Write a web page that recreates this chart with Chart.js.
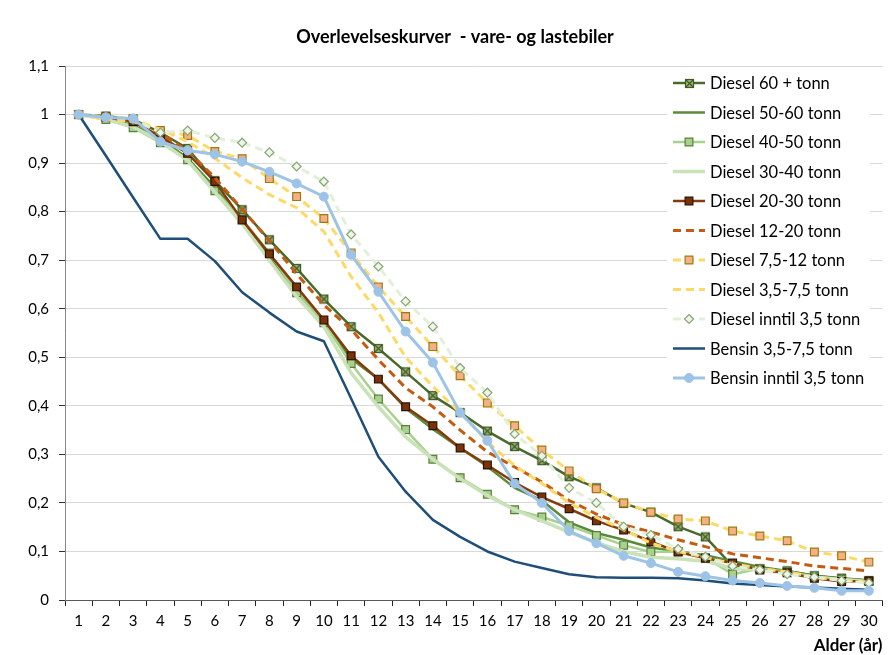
<!DOCTYPE html>
<html><head><meta charset="utf-8">
<script src="https://cdn.jsdelivr.net/npm/chart.js@4.4.0/dist/chart.umd.min.js"></script>
<style>html,body{margin:0;padding:0;background:#fff;}#wrap{width:890px;height:655px;position:relative;}</style>
</head><body><div id="wrap"><canvas id="c" width="890" height="655"></canvas></div>
<script>
const chartTitle = 'Overlevelseskurver  - vare- og lastebiler';
const xAxisTitle = 'Alder (år)';
const ages = ['1','2','3','4','5','6','7','8','9','10','11','12','13','14','15','16','17','18','19','20','21','22','23','24','25','26','27','28','29','30'];
const yTicks = [0,0.1,0.2,0.3,0.4,0.5,0.6,0.7,0.8,0.9,1,1.1];
const seriesNames = ['Diesel 60 + tonn','Diesel 50-60 tonn','Diesel 40-50 tonn','Diesel 30-40 tonn','Diesel 20-30 tonn','Diesel 12-20 tonn','Diesel 7,5-12 tonn','Diesel 3,5-7,5 tonn','Diesel inntil 3,5 tonn','Bensin 3,5-7,5 tonn','Bensin inntil 3,5 tonn'];
const diesel60 = [1.0,0.997,0.99,0.963,0.93,0.864,0.804,0.742,0.683,0.62,0.563,0.518,0.47,0.421,0.386,0.348,0.316,0.287,0.254,0.231,0.199,0.181,0.151,0.13,0.07,0.065,0.06,0.05,0.045,0.04];
const diesel5060 = [1.0,0.993,0.978,0.95,0.91,0.85,0.785,0.705,0.635,0.572,0.497,0.455,0.395,0.352,0.313,0.275,0.231,0.205,0.16,0.138,0.124,0.108,0.1,0.092,0.08,0.068,0.06,0.05,0.044,0.04];
const diesel4050 = [1.0,0.99,0.973,0.942,0.907,0.843,0.785,0.715,0.633,0.571,0.487,0.414,0.351,0.29,0.252,0.218,0.186,0.171,0.153,0.133,0.113,0.099,0.1,0.087,0.053,0.065,0.058,0.048,0.042,0.038];
const diesel3040 = [1.0,0.99,0.975,0.945,0.905,0.84,0.775,0.7,0.625,0.563,0.468,0.398,0.336,0.29,0.25,0.215,0.186,0.163,0.14,0.118,0.1,0.088,0.085,0.08,0.065,0.062,0.055,0.047,0.042,0.038];
const diesel2030 = [1.0,0.995,0.985,0.955,0.92,0.862,0.783,0.713,0.645,0.577,0.503,0.455,0.398,0.359,0.313,0.278,0.242,0.212,0.188,0.163,0.144,0.12,0.099,0.086,0.076,0.062,0.056,0.045,0.038,0.039];
const diesel1220 = [1.0,0.995,0.988,0.962,0.925,0.87,0.805,0.74,0.672,0.608,0.557,0.495,0.437,0.398,0.35,0.305,0.274,0.243,0.205,0.177,0.155,0.14,0.124,0.11,0.095,0.087,0.079,0.07,0.065,0.06];
const diesel7512 = [1.0,0.995,0.992,0.967,0.957,0.924,0.909,0.868,0.831,0.786,0.715,0.645,0.584,0.522,0.462,0.406,0.359,0.309,0.266,0.229,0.2,0.181,0.167,0.163,0.142,0.132,0.122,0.099,0.091,0.078];
const diesel3575 = [1.0,0.99,0.985,0.97,0.944,0.91,0.87,0.835,0.808,0.759,0.666,0.592,0.5,0.44,0.386,0.326,0.277,0.24,0.2,0.17,0.145,0.117,0.1,0.088,0.075,0.065,0.058,0.047,0.041,0.037];
const dieselInntil35 = [1.0,0.995,0.99,0.963,0.967,0.952,0.942,0.922,0.893,0.862,0.753,0.687,0.615,0.563,0.478,0.427,0.342,0.297,0.231,0.2,0.151,0.134,0.105,0.089,0.07,0.062,0.053,0.047,0.04,0.035];
const bensin3575 = [1.0,0.915,0.829,0.744,0.744,0.698,0.634,0.592,0.553,0.533,0.415,0.295,0.223,0.165,0.13,0.1,0.079,0.066,0.053,0.047,0.046,0.046,0.045,0.04,0.034,0.031,0.028,0.026,0.023,0.021];
const bensinInntil35 = [1.0,0.994,0.992,0.944,0.926,0.918,0.903,0.882,0.858,0.831,0.711,0.635,0.553,0.489,0.386,0.328,0.24,0.2,0.142,0.117,0.091,0.076,0.058,0.049,0.04,0.035,0.029,0.025,0.019,0.019];

const FONT = "Lato, 'Open Sans', 'Liberation Sans', sans-serif";

// square-with-X marker
function crossBox() {
  const c = document.createElement('canvas');
  c.width = 11; c.height = 11;
  const g = c.getContext('2d');
  g.fillStyle = '#9bb27a';
  g.fillRect(1,1,9,9);
  g.strokeStyle = '#3f5a22';
  g.lineWidth = 1.2;
  g.strokeRect(1.5,1.5,8,8);
  g.beginPath();
  g.moveTo(2,2); g.lineTo(9,9); g.moveTo(9,2); g.lineTo(2,9);
  g.stroke();
  return c;
}
const xMark = crossBox();

function ds(label, data, o) {
  return Object.assign({label, data, tension: 0, fill: false, pointRadius: 0, pointHoverRadius: 0, borderWidth: 2.5, borderDash: []}, o);
}
const datasets = [
  ds(seriesNames[0], diesel60, {borderColor:'#4a6a2c', pointStyle: xMark, pointRadius: 5}),
  ds(seriesNames[1], diesel5060, {borderColor:'#5a8a3a'}),
  ds(seriesNames[2], diesel4050, {borderColor:'#a9d18e', pointStyle:'rect', pointRadius:5.5, pointBackgroundColor:'#a9d18e', pointBorderColor:'#5a7f3c', pointBorderWidth:1.2}),
  ds(seriesNames[3], diesel3040, {borderColor:'#c9e2b8', borderWidth:3.5}),
  ds(seriesNames[4], diesel2030, {borderColor:'#843c0c', pointStyle:'rect', pointRadius:5.5, pointBackgroundColor:'#7a3208', pointBorderColor:'#2b1204', pointBorderWidth:1.2}),
  ds(seriesNames[5], diesel1220, {borderColor:'#c55a11', borderWidth:3, borderDash:[8,5]}),
  ds(seriesNames[6], diesel7512, {borderColor:'#ffd966', borderWidth:3, borderDash:[8,5], pointStyle:'rect', pointRadius:5.5, pointBackgroundColor:'#f4b183', pointBorderColor:'#a07a10', pointBorderWidth:1.2}),
  ds(seriesNames[7], diesel3575, {borderColor:'#ffd966', borderWidth:3, borderDash:[8,5]}),
  ds(seriesNames[8], dieselInntil35, {borderColor:'#e2f0d9', borderWidth:3, borderDash:[8,5], pointStyle:'rectRot', pointRadius:4.5, pointBackgroundColor:'#eef6e8', pointBorderColor:'#8aa476', pointBorderWidth:1.2}),
  ds(seriesNames[9], bensin3575, {borderColor:'#1f4e79'}),
  ds(seriesNames[10], bensinInntil35, {borderColor:'#9dc3e6', borderWidth:3, pointStyle:'circle', pointRadius:4.5, pointBackgroundColor:'#9dc3e6', pointBorderColor:'#9dc3e6', pointBorderWidth:1})
];
datasets.forEach((d, i) => { d.order = datasets.length - i; });

const LEG = {x: 667, y: 68, w: 203, h: 327, firstY: 83, step: 29.5, lineX0: 673, lineX1: 705, textX: 710};

function drawMarker(ctx, d, x, y) {
  const ps = d.pointStyle, r = d.pointRadius;
  if (!r) return;
  if (ps instanceof HTMLCanvasElement) { ctx.drawImage(ps, Math.round(x - ps.width/2), Math.round(y - ps.height/2)); return; }
  ctx.fillStyle = d.pointBackgroundColor; ctx.strokeStyle = d.pointBorderColor; ctx.lineWidth = d.pointBorderWidth || 1;
  ctx.beginPath();
  if (ps === 'rect') { const s = r * Math.SQRT1_2; ctx.rect(x - s, y - s, 2*s, 2*s); }
  else if (ps === 'rectRot') { ctx.moveTo(x, y - r); ctx.lineTo(x + r, y); ctx.lineTo(x, y + r); ctx.lineTo(x - r, y); ctx.closePath(); }
  else { ctx.arc(x, y, r, 0, Math.PI*2); }
  ctx.fill(); ctx.stroke();
}

const overlay = {
  id: 'overlay',
  afterDraw(chart) {
    const ctx = chart.ctx;
    ctx.save();
    // title
    ctx.fillStyle = '#000';
    ctx.font = 'bold 18px ' + FONT;
    ctx.textAlign = 'center'; ctx.textBaseline = 'middle';
    ctx.fillText(chartTitle, 455, 37);
    // legend
    ctx.fillStyle = '#fff';
    ctx.fillRect(LEG.x, LEG.y, LEG.w, LEG.h);
    chart.data.datasets.forEach((d, i) => {
      const y = LEG.firstY + i * LEG.step;
      ctx.beginPath();
      ctx.setLineDash(d.borderDash || []);
      ctx.lineWidth = d.borderWidth; ctx.strokeStyle = d.borderColor; ctx.lineCap = 'butt';
      ctx.moveTo(LEG.lineX0, y); ctx.lineTo(LEG.lineX1, y); ctx.stroke();
      ctx.setLineDash([]);
      drawMarker(ctx, d, (LEG.lineX0 + LEG.lineX1)/2, y);
      ctx.fillStyle = '#000'; ctx.font = '16.5px ' + FONT; ctx.textAlign = 'left'; ctx.textBaseline = 'middle';
      ctx.fillText(d.label, LEG.textX, y + 1);
    });
    ctx.restore();
  }
};

new Chart(document.getElementById('c'), {
  type: 'line',
  data: { labels: ages, datasets },
  plugins: [overlay],
  options: {
    responsive: false, animation: false, devicePixelRatio: 1,
    layout: { padding: { top: 66, left: 0, right: 0, bottom: 0 } },
    plugins: { legend: { display: false }, title: { display: false }, tooltip: { enabled: false } },
    elements: { line: { borderCapStyle: 'butt', borderJoinStyle: 'round' } },
    scales: {
      x: {
        type: 'category', offset: true,
        grid: { display: true, offset: true, drawOnChartArea: false, drawTicks: true, tickLength: 6, tickColor: '#222' },
        border: { display: true, color: '#595959', width: 1 },
        ticks: { autoSkip: false, maxRotation: 0, minRotation: 0, padding: 6, color: '#000', font: { size: 15, family: FONT } },
        title: { display: true, text: xAxisTitle, align: 'end', color: '#000', font: { size: 17, weight: 'bold', family: FONT }, padding: { top: 0, bottom: -1 } },
        afterFit(s) { s.height = 55; }
      },
      y: {
        min: 0, max: 1.1,
        afterBuildTicks(s) { s.ticks = yTicks.map(v => ({ value: v })); },
        grid: { color: '#d9d9d9', lineWidth: 1, drawTicks: true, tickLength: 6, tickColor: '#333' },
        border: { display: true, color: '#868686', width: 1 },
        ticks: { padding: 10, color: '#000', font: { size: 15, family: FONT }, callback: v => String(Math.round(v * 10) / 10).replace('.', ',') },
        afterFit(s) { s.width = 65; }
      }
    }
  }
});
</script></body></html>
